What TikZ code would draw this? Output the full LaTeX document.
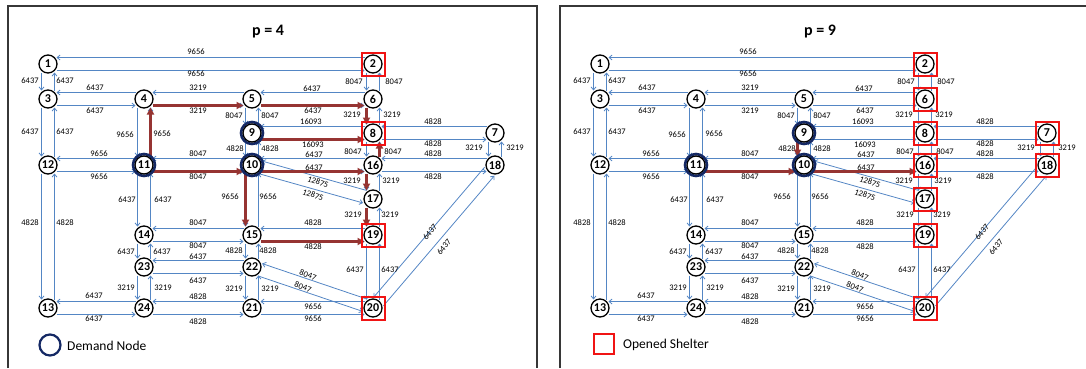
\documentclass[tikz,border=0pt]{standalone}
\usepackage{fontspec}
\setmainfont{Carlito}
\usetikzlibrary{calc,arrows.meta}
\definecolor{lnblue}{RGB}{84,134,196}
\definecolor{pathred}{RGB}{150,52,50}
\definecolor{navy}{RGB}{20,40,100}
\definecolor{shelred}{RGB}{240,20,20}
\definecolor{framegray}{RGB}{55,55,55}
\tikzset{
 arcln/.style={draw=lnblue, line width=0.8pt, -{Straight Barb[length=3pt,width=5pt]}},
 redln/.style={draw=pathred, line width=2.4pt, -{Triangle[length=7pt,width=7pt]}},
 vx/.style={circle, draw=black, line width=1.3pt, fill=white, minimum size=18pt, inner sep=0pt, font=\bfseries\fontsize{12}{12}\selectfont},
 dmd/.style={circle, draw=navy, line width=2.6pt, fill=white, minimum size=22pt, inner sep=0pt},
 shel/.style={rectangle, draw=shelred, line width=2pt, minimum size=23pt, inner sep=0pt},
 lbl/.style={font=\fontsize{8.5}{9}\selectfont, inner sep=0pt},
 ttl/.style={font=\bfseries\fontsize{16}{16}\selectfont},
 leg/.style={font=\fontsize{13.5}{14}\selectfont, anchor=west, inner sep=0pt},
 frm/.style={draw=framegray, line width=1.2pt},
}
\newcommand\arcab[3]{\draw[#1] ($($(#2.center)!8.5pt!(#3.center)$)!6.5pt!-90:(#3.center)$) -- ($($(#3.center)!8.5pt!(#2.center)$)!6.5pt!90:(#2.center)$);}
\newcommand\panelA[2]{%
 \begin{scope}[xshift=#2]
 \foreach \n/\x/\y in {1/48/64, 2/373/64, 3/48/99, 4/144/99, 5/252/99, 6/373/99, 7/495/133, 8/373/133, 9/252/133, 10/252/165, 11/144/165, 12/48/165, 13/48/308, 14/144/235, 15/252/235, 16/373/165, 17/373/199, 18/495/165, 19/373/235, 20/373/308, 21/252/308, 22/252/267, 23/144/267, 24/144/308}
   \coordinate (#1-\n) at (\x,\y);
 \foreach \a/\b in {1/2, 1/3, 2/6, 3/4, 3/12, 4/5, 4/11, 5/6, 5/9, 6/8, 7/8, 7/18, 8/9, 8/16, 9/10, 10/11, 10/15, 10/16, 10/17, 11/12, 11/14, 12/13, 13/24, 14/15, 14/23, 15/19, 15/22, 16/17, 16/18, 17/19, 18/20, 19/20, 20/21, 20/22, 21/22, 21/24, 22/23, 23/24}
   {\arcab{arcln}{#1-\a}{#1-\b}\arcab{arcln}{#1-\b}{#1-\a}}
 \foreach \x/\y/\t in {196/52/9656, 196/74/9656, 30/81/6437, 65/81/6437, 95/88/6437, 95/111/6437, 198/88/3219, 198/111/3219, 30/132/6437, 65/132/6437, 125/135/9656, 162/134/9656, 234/116/8047, 270/116/8047, 235/149/4828, 270/149/4828, 99/154/9656, 99/177/9656, 198/154/8047, 198/177/8047, 312/89/6437, 313/111/6437, 354/82/8047, 394/82/8047, 352/115/3219, 392/115/3219, 311/122/16093, 313/145/16093, 433/122/4828, 433/144/4828, 474/148/3219, 515/148/3219, 353/152/8047, 393/152/8047, 314/155/6437, 314/168/6437, 433/154/4828, 433/177/4828, 352/181/3219, 391/181/3219, 353/215/3219, 390/215/3219, 313/223/4828, 313/247/4828, 230/197/9656, 268/197/9656, 127/200/6437, 163/200/6437, 30/223/4828, 65/223/4828, 198/223/8047, 198/246/8047, 126/252/6437, 162/252/6437, 234/251/4828, 268/251/4828, 198/257/6437, 198/281/6437, 355/270/6437, 390/270/6437, 126/288/3219, 163/288/3219, 234/289/3219, 270/289/3219, 94/296/6437, 94/319/6437, 198/297/4828, 198/322/4828, 313/307/9656, 313/319/9656}
   \node[lbl] (#1-l\x-\y) at (\x,\y) {\t};
 \foreach \x/\y/\t/\r in {318/182/12875/-20, 313/195/12875/-20, 308/275/8047/-20, 303/287/8047/-20, 430/232/6437/50, 444/247/6437/50}
   \node[lbl, rotate=\r] (#1-l\x-\y) at (\x,\y) {\t};
 \end{scope}}
\newcommand\panelB[1]{%
 \foreach \n in {9,10,11} \node[dmd] (#1-d\n) at (#1-\n) {};
 \foreach \n in {1,...,24} \node[vx] (#1-v\n) at (#1-\n) {\n};}
\begin{document}
\begin{tikzpicture}[x=1pt,y=-1pt]
\useasboundingbox (0,0) rectangle (1086,368);
\draw[frm] (8,368) -- (8,6) -- (537,6) -- (537,368);
\draw[frm] (560,368) -- (560,6) -- (1086,6);
\panelA{L}{0pt}
\panelA{R}{552pt}
% optimal paths p=4
\foreach \a/\b in {11/4, 4/5, 5/6, 6/8, 9/8, 16/8, 11/10, 10/16, 16/17, 17/19, 10/15, 15/19}
  {\arcab{redln}{L-\a}{L-\b}}
% optimal paths p=9
\foreach \a/\b in {9/10, 11/10, 10/16}
  {\arcab{redln}{R-\a}{R-\b}}
\foreach \n in {2,8,19,20} \node[shel] (L-s\n) at (L-\n) {};
\foreach \n in {2,6,7,8,16,17,18,19,20} \node[shel] (R-s\n) at (R-\n) {};
\panelB{L}
\panelB{R}
\node[ttl] (t1) at (268,32) {p = 4};
\node[ttl] (t2) at (820,32) {p = 9};
\node[dmd, minimum size=21pt, line width=2.2pt] (lg1) at (50,345) {};
\node[leg] (lg1t) at (67,346) {Demand Node};
\node[shel, minimum size=20pt] (lg2) at (604,344) {};
\node[leg] (lg2t) at (623,345) {Opened Shelter};
\end{tikzpicture}
\end{document}
